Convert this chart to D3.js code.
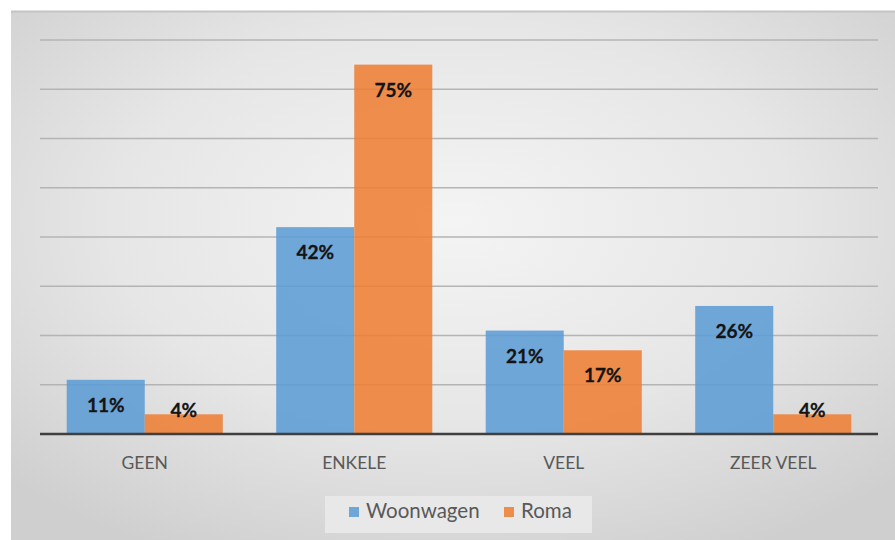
<!DOCTYPE html>
<html><head><meta charset="utf-8">
<script src="https://cdn.jsdelivr.net/npm/d3@7"></script>
<style>html,body{margin:0;padding:0;background:#fff;}svg{display:block;}</style>
</head><body>
<script>
const categories = ["GEEN", "ENKELE", "VEEL", "ZEER VEEL"];
const seriesNames = ["Woonwagen", "Roma"];
const woonwagen = [11, 42, 21, 26];
const roma = [4, 75, 17, 4];
const yTicks = [0, 10, 20, 30, 40, 50, 60, 70, 80];
const colors = ["#5b9bd5", "#ed7d31"];

(function () {
const W = 895, H = 540;
const svg = d3.select("body").append("svg").attr("width", W).attr("height", H);
const defs = svg.append("defs");
const grad = defs.append("radialGradient").attr("id", "bg").attr("cx", "50%").attr("cy", "40%").attr("r", "70%");
grad.append("stop").attr("offset", "0%").attr("stop-color", "#f4f4f4");
grad.append("stop").attr("offset", "55%").attr("stop-color", "#e6e6e6");
grad.append("stop").attr("offset", "100%").attr("stop-color", "#cfcfcf");

svg.append("rect").attr("x", 11).attr("y", 11).attr("width", W - 11).attr("height", H - 11).attr("fill", "url(#bg)");
svg.append("line").attr("x1", 11).attr("x2", W).attr("y1", 11.5).attr("y2", 11.5).attr("stroke", "#c4c4c4").attr("stroke-width", 2);

const mLeft = 40, mRight = 878, mTop = 40, mBottom = 434;
const x = d3.scaleBand().domain(categories).range([mLeft, mRight]).paddingInner(0.255).paddingOuter(0.1275);
const xs = d3.scaleBand().domain(seriesNames).range([0, x.bandwidth()]);
const y = d3.scaleLinear().domain([0, 80]).range([mBottom, mTop]);

svg.append("g").selectAll("line").data(yTicks.filter(d => d > 0)).join("line")
  .attr("x1", mLeft).attr("x2", mRight)
  .attr("y1", d => y(d)).attr("y2", d => y(d))
  .attr("stroke", "#b4b4b4").attr("stroke-width", 1.5);

const data = categories.map((c, i) => ({cat: c, vals: [woonwagen[i], roma[i]]}));
const groups = svg.append("g").selectAll("g").data(data).join("g")
  .attr("transform", d => `translate(${x(d.cat)},0)`);
groups.selectAll("rect").data(d => d.vals.map((v, j) => ({v, j}))).join("rect")
  .attr("x", d => xs(seriesNames[d.j])).attr("width", xs.bandwidth())
  .attr("y", d => y(d.v)).attr("height", d => mBottom - y(d.v))
  .attr("fill", d => colors[d.j]).attr("fill-opacity", 0.86);
groups.selectAll("text").data(d => d.vals.map((v, j) => ({v, j}))).join("text")
  .attr("x", d => xs(seriesNames[d.j]) + xs.bandwidth() / 2)
  .attr("y", d => Math.min(y(d.v) + 32, mBottom - 17))
  .attr("text-anchor", "middle")
  .attr("font-family", "Lato, 'Open Sans', sans-serif").attr("font-weight", "bold").attr("font-size", 19)
  .attr("fill", "#141414").attr("stroke", "#141414").attr("stroke-width", 0.3)
  .text(d => d.v + "%");

svg.append("line").attr("x1", mLeft).attr("x2", mRight).attr("y1", mBottom).attr("y2", mBottom)
  .attr("stroke", "#3f3f3f").attr("stroke-width", 2.5);

const xAxis = d3.axisBottom(x).tickSize(0).tickPadding(0);
const gx = svg.append("g").attr("transform", `translate(0,${mBottom})`).call(xAxis);
gx.select(".domain").remove();
gx.selectAll("text").attr("y", 35).attr("dy", 0)
  .attr("font-family", "Lato, 'Open Sans', sans-serif").attr("font-size", 17.5).attr("fill", "#595959");

const lg = svg.append("g");
lg.append("rect").attr("x", 325).attr("y", 496).attr("width", 267).attr("height", 37).attr("fill", "#e8e8e8");
const legX = [349, 504];
seriesNames.forEach((s, i) => {
  lg.append("rect").attr("x", legX[i]).attr("y", 507).attr("width", 10).attr("height", 10).attr("fill", colors[i]).attr("fill-opacity", 0.86);
  lg.append("text").attr("x", legX[i] + 17).attr("y", 518)
    .attr("font-family", "Lato, 'Open Sans', sans-serif").attr("font-size", 20.5).attr("fill", "#595959").text(s);
});
})();
</script>
</body></html>
